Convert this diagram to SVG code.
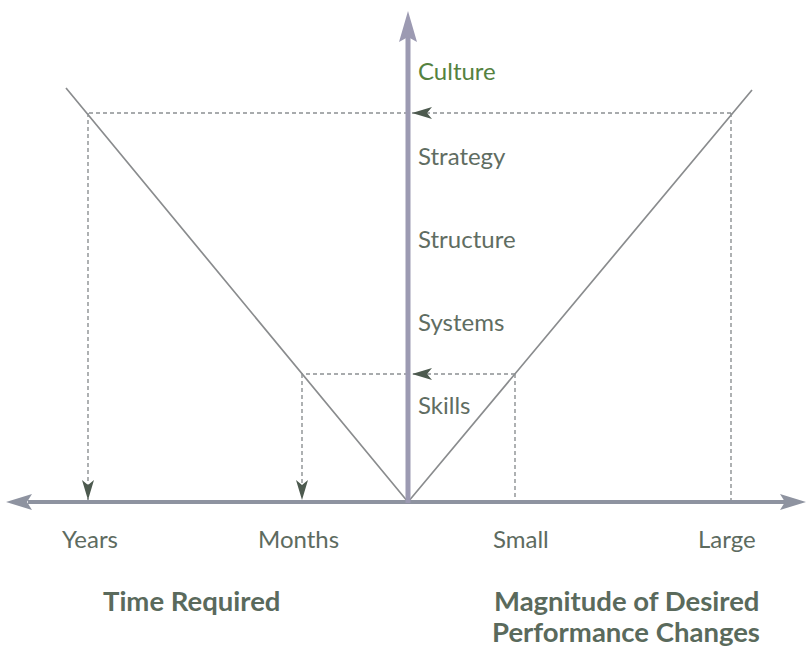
<svg xmlns="http://www.w3.org/2000/svg" width="807" height="653" viewBox="0 0 807 653">
  <style>
    .lbl { font-family: Lato, "Open Sans", "Liberation Sans", sans-serif; font-size: 24px; fill: #5d6b5f; }
    .lvl { font-family: Lato, "Open Sans", "Liberation Sans", sans-serif; font-size: 24px; fill: #5f6d62; }
    .ttl { font-family: Lato, "Open Sans", "Liberation Sans", sans-serif; font-size: 27.5px; font-weight: bold; fill: #5a6a5c; }
    .vee { stroke: #8a8c8e; stroke-width: 1.7; fill: none; }
    .dash { stroke: #8c9092; stroke-width: 1.4; stroke-dasharray: 4 3; fill: none; }
    .head { fill: #4d5a4f; }
    .axis-h { stroke: #8e93a0; stroke-width: 4; fill: none; }
    .axis-v { stroke: #9c9ab2; stroke-width: 5; fill: none; }
  </style>
  <defs>
    <marker id="tip" viewBox="0 0 20 12" refX="20" refY="6" markerWidth="20" markerHeight="12" markerUnits="userSpaceOnUse" orient="auto">
      <path class="head" d="M0,0 L20,6 L0,12 L5,6 Z"/>
    </marker>
  </defs>
  <rect width="807" height="653" fill="#ffffff"/>

  <g id="connectors">
    <!-- V-shaped curve -->
    <path class="vee" d="M66,88 L408,502 L752,90"/>
    <!-- large change projection -->
    <path class="dash" d="M731,113 L731,502"/>
    <path class="dash" d="M731,113 L412,113" marker-end="url(#tip)"/>
    <path class="dash" d="M408,113 L88,113"/>
    <path class="dash" d="M88,113 L88,500" marker-end="url(#tip)"/>
    <!-- small change projection -->
    <path class="dash" d="M515,374 L515,502"/>
    <path class="dash" d="M515,374 L412,374" marker-end="url(#tip)"/>
    <path class="dash" d="M408,374 L302,374"/>
    <path class="dash" d="M302,374 L302,500" marker-end="url(#tip)"/>
  </g>

  <g id="axes">
    <path class="axis-h" d="M28,502 L785,502"/>
    <path fill="#8e93a0" d="M6,502 L32,494 L27,502 L32,510 Z"/>
    <path fill="#8e93a0" d="M806,502 L780,494 L785,502 L780,510 Z"/>
    <path class="axis-v" d="M408,503 L408,36"/>
    <path fill="#9c9ab2" d="M408,11 L399,42 L408,37 L417,42 Z"/>
  </g>

  <g id="levels">
    <text class="lvl" x="418" y="80" style="fill:#55823f">Culture</text>
    <text class="lvl" x="418" y="165">Strategy</text>
    <text class="lvl" x="418" y="248">Structure</text>
    <text class="lvl" x="418" y="331">Systems</text>
    <text class="lvl" x="418" y="414">Skills</text>
  </g>

  <g id="axis-labels">
    <text class="lbl" x="62" y="548">Years</text>
    <text class="lbl" x="258" y="548">Months</text>
    <text class="lbl" x="493" y="548">Small</text>
    <text class="lbl" x="698" y="548">Large</text>
  </g>

  <g id="titles">
    <text class="ttl" x="103" y="611">Time Required</text>
    <text class="ttl" x="494" y="611">Magnitude of Desired</text>
    <text class="ttl" x="492" y="642">Performance Changes</text>
  </g>
</svg>
